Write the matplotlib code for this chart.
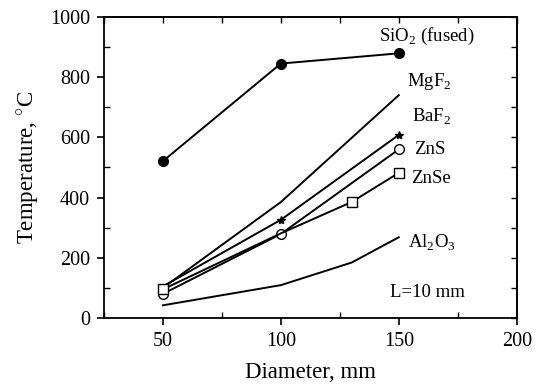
import matplotlib.pyplot as plt
from matplotlib.ticker import MultipleLocator

plt.rcParams['font.family'] = ['Liberation Serif', 'DejaVu Serif']
plt.rcParams['mathtext.fontset'] = 'custom'
plt.rcParams['mathtext.rm'] = 'Liberation Serif'

# data
sio2_d = [50, 100, 150]
sio2_t = [521, 845, 879]
mgf2_d = [50, 100, 150]
mgf2_t = [100, 385, 740]
baf2_d = [50, 100, 150]
baf2_t = [105, 326, 608]
zns_d = [50, 100, 150]
zns_t = [80, 279, 560]
znse_d = [50, 100, 130, 150]
znse_t = [95, 281, 385, 482]
al2o3_d = [50, 100, 130, 150]
al2o3_t = [42, 109, 184, 268]

fig = plt.figure(figsize=(5.36, 3.84), dpi=100)
ax = fig.add_axes([0.194, 0.172, 0.770, 0.784])

lw = 1.4
ax.plot(sio2_d, sio2_t, 'k-', lw=lw, marker='o', ms=7, mfc='k')
ax.plot(mgf2_d, mgf2_t, 'k-', lw=lw)
ax.plot(baf2_d, baf2_t, 'k-', lw=lw)
ax.plot([baf2_d[1], baf2_d[2]], [baf2_t[1], baf2_t[2]], 'k*', ms=6)
ax.plot(zns_d, zns_t, 'k-', lw=lw, marker='o', ms=7, mfc='white')
ax.plot(znse_d, znse_t, 'k-', lw=lw)
ax.plot([znse_d[0], znse_d[2], znse_d[3]], [znse_t[0], znse_t[2], znse_t[3]],
        'ks', ms=7, mfc='white')
ax.plot(al2o3_d, al2o3_t, 'k-', lw=lw)

fs = 13.5
ax.text(162, 935, 'SiO$_2$ (fused)', fontsize=fs, ha='center', va='center')
ax.text(163, 785, 'MgF$_2$', fontsize=fs, ha='center', va='center')
ax.text(164, 668, 'BaF$_2$', fontsize=fs, ha='center', va='center')
ax.text(163, 560, 'ZnS', fontsize=fs, ha='center', va='center')
ax.text(163.5, 462, 'ZnSe', fontsize=fs, ha='center', va='center')
ax.text(164, 250, 'Al$_2$O$_3$', fontsize=fs, ha='center', va='center')
ax.text(162, 86, 'L=10 mm', fontsize=fs, ha='center', va='center')

ax.set_xlim(25, 200)
ax.set_ylim(0, 1000)
ax.set_xticks([50, 100, 150, 200])
ax.set_yticks([0, 200, 400, 600, 800, 1000])
ax.xaxis.set_minor_locator(MultipleLocator(25))
ax.yaxis.set_minor_locator(MultipleLocator(100))
ax.tick_params(which='major', direction='out', length=5, width=1.2,
               labelsize=14.5, pad=5)
ax.tick_params(which='minor', direction='in', length=4, width=1.0)
for s in ax.spines.values():
    s.set_linewidth(1.3)

# inward ticks on top and right
top = ax.secondary_xaxis('top')
top.set_xticks([50, 100, 150, 200])
top.xaxis.set_minor_locator(MultipleLocator(25))
top.tick_params(which='both', direction='in', length=4, width=1.0,
                labeltop=False)
right = ax.secondary_yaxis('right')
right.set_yticks([0, 200, 400, 600, 800, 1000])
right.yaxis.set_minor_locator(MultipleLocator(100))
right.tick_params(which='both', direction='in', length=4, width=1.0,
                  labelright=False)
for sec in (top, right):
    for s in sec.spines.values():
        s.set_linewidth(1.3)

ax.set_xlabel('Diameter, mm', fontsize=16.5, labelpad=8)
ax.set_ylabel('Temperature, $^{\\circ}$C', fontsize=16.5, labelpad=6)

fig.savefig('out.png', dpi=100)
